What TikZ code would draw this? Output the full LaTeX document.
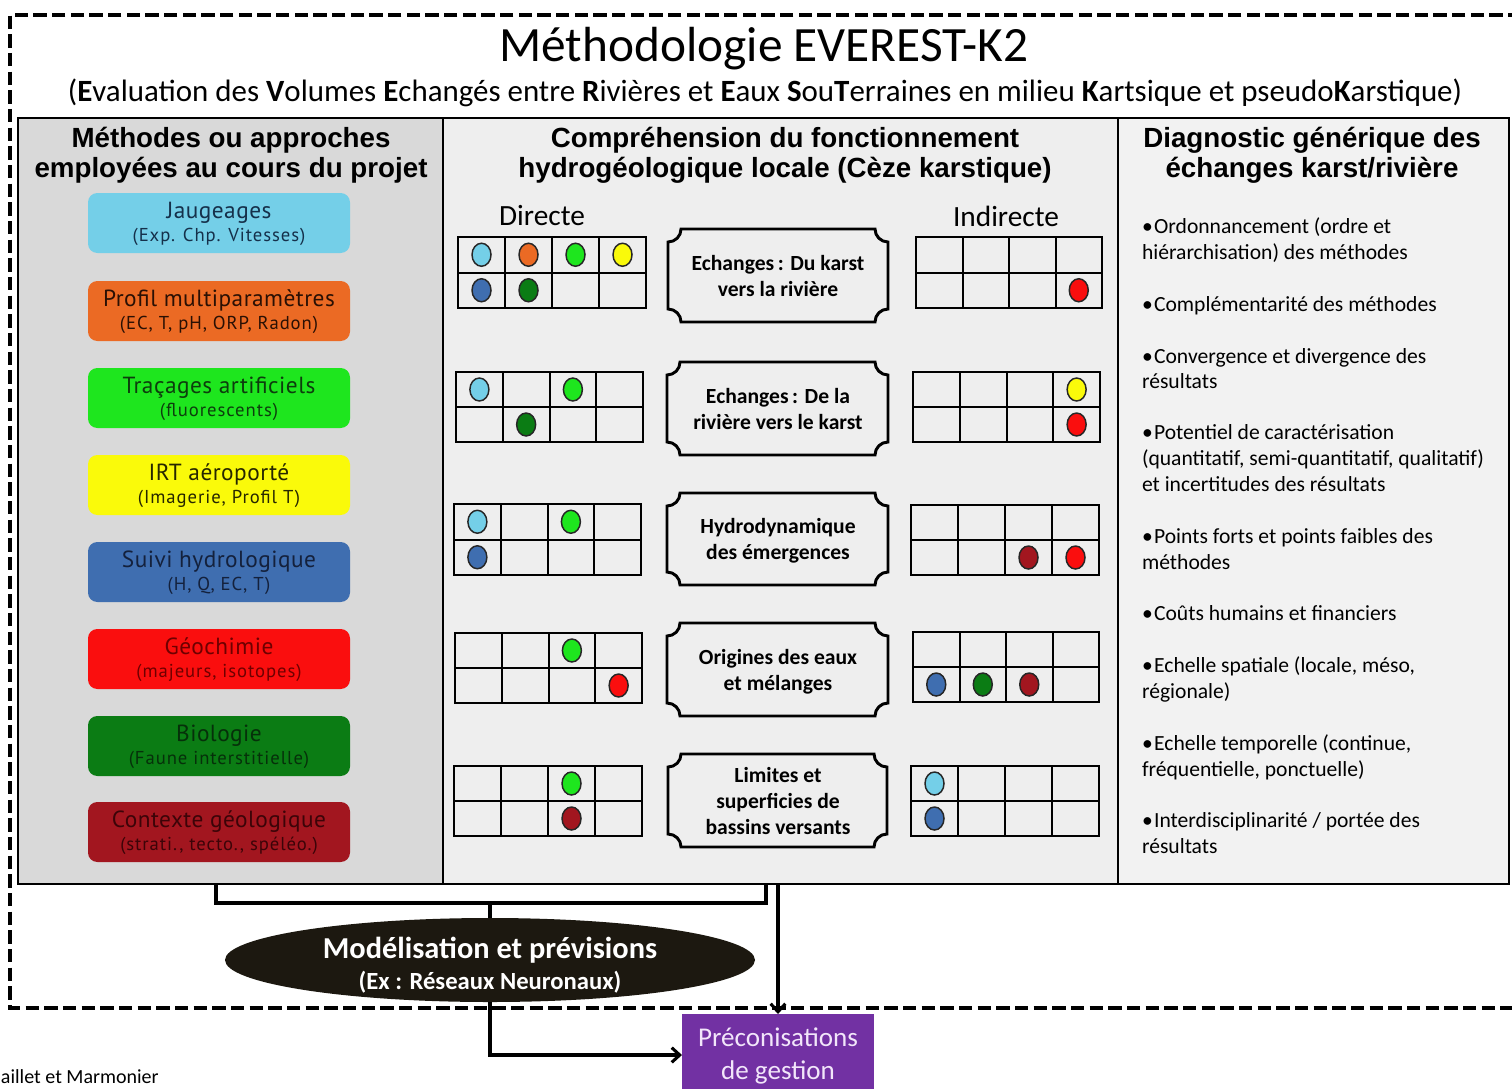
\documentclass[tikz,border=0pt]{standalone}
\usepackage{fontspec}
\setmainfont{Carlito}
\newfontfamily\hdfont{Liberation Sans}
\newfontfamily\boxfont[LetterSpace=2]{PT Sans}
\newfontfamily\boxsubfont[LetterSpace=5]{PT Sans}
\usetikzlibrary{shapes.geometric,arrows.meta,fit,calc}

\definecolor{panelL}{HTML}{D9D9D9}
\definecolor{panelM}{HTML}{EEEEEE}
\definecolor{panelR}{HTML}{F2F2F2}
\definecolor{cJau}{HTML}{74CFE8}
\definecolor{cPro}{HTML}{EB6A24}
\definecolor{cTra}{HTML}{1EE61E}
\definecolor{cIrt}{HTML}{FAFA0A}
\definecolor{cSui}{HTML}{3F6EB0}
\definecolor{cGeo}{HTML}{FA0E0E}
\definecolor{cBio}{HTML}{0B7C14}
\definecolor{cCtx}{HTML}{A2161F}
\definecolor{tJau}{HTML}{15304A}
\definecolor{tPro}{HTML}{2A1004}
\definecolor{tTra}{HTML}{0D3D0D}
\definecolor{tIrt}{HTML}{262600}
\definecolor{tSui}{HTML}{14213C}
\definecolor{tGeo}{HTML}{6E0000}
\definecolor{tBio}{HTML}{06300A}
\definecolor{tCtx}{HTML}{3C0408}
\definecolor{modelfill}{HTML}{1C1810}
\definecolor{precfill}{HTML}{7231A3}
\definecolor{prectext}{HTML}{F2E6FA}

% 4 x 2 grid of cells; remembers its corners for the spots
\newcommand\cellgrid[4]{%
  \def\gxa{#1}\def\gya{#2}\def\gxb{#3}\def\gyb{#4}%
  \draw[cellline] (#1,#2) rectangle (#3,#4);
  \draw[cellline] (#1,{(#2+#4)/2}) -- (#3,{(#2+#4)/2});
  \foreach \k in {1,2,3}{\draw[cellline] ({#1+\k*(#3-#1)/4},#2) -- ({#1+\k*(#3-#1)/4},#4);}
}
% coloured spot in column #1, row #2 of the last grid
\newcommand\gspot[3]{%
  \filldraw[spot, fill=#3] ({\gxa+(#1-0.5)*(\gxb-\gxa)/4},{\gya+(#2-0.5)*(\gyb-\gya)/2}) ellipse[x radius=9.5, y radius=11.5];
}
% plaque outline (concave corners) around a node
\newcommand\plaquepath[1]{%
  \draw[plaqueline]
    ($(#1.north west)+(0,13)$) .. controls ($(#1.north west)+(7.2,13)$) and ($(#1.north west)+(13,7.2)$) .. ($(#1.north west)+(13,0)$)
    -- ($(#1.north east)+(-13,0)$) .. controls ($(#1.north east)+(-13,7.2)$) and ($(#1.north east)+(-7.2,13)$) .. ($(#1.north east)+(0,13)$)
    -- ($(#1.south east)+(0,-13)$) .. controls ($(#1.south east)+(-7.2,-13)$) and ($(#1.south east)+(-13,-7.2)$) .. ($(#1.south east)+(-13,0)$)
    -- ($(#1.south west)+(13,0)$) .. controls ($(#1.south west)+(13,-7.2)$) and ($(#1.south west)+(7.2,-13)$) .. ($(#1.south west)+(0,-13)$)
    -- cycle;
}

\begin{document}
\begin{tikzpicture}[x=0.75pt,y=-0.75pt,
  every node/.style={outer sep=0pt},
  panel/.style={draw=black, line width=2.2pt, inner sep=0pt},
  methbox/.style={rounded corners=7pt, inner sep=0pt},
  mainlbl/.style={font=\boxfont\fontsize{17.5}{19}\selectfont, anchor=base, inner sep=0pt},
  sublbl/.style={font=\boxsubfont\fontsize{14}{16}\selectfont, anchor=base, inner sep=0pt},
  headtxt/.style={font=\hdfont\bfseries\fontsize{20.8}{23}\selectfont, anchor=base, inner sep=0pt},
  plaquetxt/.style={font=\bfseries\fontsize{16.2}{19}\selectfont, anchor=base, inner sep=0pt},
  plaqueline/.style={draw=black, line width=2.2pt},
  cellline/.style={draw=black, line width=1.5pt},
  spot/.style={draw=black!85, line width=1.1pt},
  diagtxt/.style={font=\fontsize{16.2}{19}\selectfont, anchor=base west, inner sep=0pt},
  link/.style={line width=2.3pt},
  linkarrow/.style={line width=2.3pt, -{Straight Barb[length=6pt,width=11pt]}},
]
\useasboundingbox (0,0) rectangle (1512,1088);

% dashed project frame
\draw[line width=2.6pt, dash pattern=on 10pt off 4pt] (1540,15) -- (10,15) -- (10,1008) -- (1540,1008);

% title
\node[anchor=base, inner sep=0pt, font=\fontsize{37}{41}\selectfont] (title) at (764,62) {Méthodologie EVEREST-K2};
\node[anchor=base, inner sep=0pt, font=\fontsize{23.2}{26}\selectfont] (subtitle) at (765,101)
  {(\textbf{E}valuation des \textbf{V}olumes \textbf{E}changés entre \textbf{R}ivières et \textbf{E}aux \textbf{S}ou\textbf{T}erraines en milieu \textbf{K}artsique et pseudo\textbf{K}arstique)};

% three panels
\node[panel, fill=panelL, fit={(18,118) (443,884)}] (colL) {};
\node[panel, fill=panelM, fit={(443,118) (1118,884)}] (colM) {};
\node[panel, fill=panelR, fit={(1118,118) (1509,884)}] (colR) {};

\node[headtxt] (hL1) at (231,147) {Méthodes ou approches};
\node[headtxt] (hL2) at (231,177) {employées au cours du projet};
\node[headtxt] (hM1) at (785,147) {Compréhension du fonctionnement};
\node[headtxt] (hM2) at (785,177) {hydrogéologique locale (Cèze karstique)};
\node[headtxt] (hR1) at (1312,147) {Diagnostic générique des};
\node[headtxt] (hR2) at (1312,177) {échanges karst/rivière};

% methods
\foreach \i/\t/\c/\tc/\ma/\sb in {
  1/193/cJau/tJau/Jaugeages/{(Exp. Chp. Vitesses)},
  2/281/cPro/tPro/Profil multiparamètres/{(EC, T, pH, ORP, Radon)},
  3/368/cTra/tTra/Traçages artificiels/{(fluorescents)},
  4/455/cIrt/tIrt/IRT aéroporté/{(Imagerie, Profil T)},
  5/542/cSui/tSui/Suivi hydrologique/{(H, Q, EC, T)},
  6/629/cGeo/tGeo/Géochimie/{(majeurs, isotopes)},
  7/716/cBio/tBio/Biologie/{(Faune interstitielle)},
  8/802/cCtx/tCtx/Contexte géologique/{(strati., tecto., spéléo.)}}{
  \node[methbox, fill=\c, fit={(88,\t) (350,{\t+60})}] (meth\i) {};
  \node[mainlbl, text=\tc] (meth\i a) at (219,{\t+25}) {\ma};
  \node[sublbl, text=\tc] (meth\i b) at (219,{\t+48}) {\sb};
}

% middle panel
\node[anchor=base, inner sep=0pt, font=\fontsize{22}{24}\selectfont] (direct) at (542,225) {Directe};
\node[anchor=base, inner sep=0pt, font=\fontsize{22}{24}\selectfont] (indirect) at (1006,226) {Indirecte};

\node[inner sep=0pt, fit={(668,229) (888,322)}] (pq1) {};
\node[inner sep=0pt, fit={(667,362) (888,455)}] (pq2) {};
\node[inner sep=0pt, fit={(667,493) (888,585)}] (pq3) {};
\node[inner sep=0pt, fit={(667,623) (888,716)}] (pq4) {};
\node[inner sep=0pt, fit={(668,754) (887,847)}] (pq5) {};
\foreach \n in {pq1,pq2,pq3,pq4,pq5}{\plaquepath{\n}}

\node[plaquetxt] (pq1a) at (778,270) {Echanges\,: Du karst};
\node[plaquetxt] (pq1b) at (778,296) {vers la rivière};
\node[plaquetxt] (pq2a) at (778,403) {Echanges\,: De la};
\node[plaquetxt] (pq2b) at (778,429) {rivière vers le karst};
\node[plaquetxt] (pq3a) at (778,533) {Hydrodynamique};
\node[plaquetxt] (pq3b) at (778,559) {des émergences};
\node[plaquetxt] (pq4a) at (778,664) {Origines des eaux};
\node[plaquetxt] (pq4b) at (778,690) {et mélanges};
\node[plaquetxt] (pq5a) at (778,782) {Limites et};
\node[plaquetxt] (pq5b) at (778,808) {superficies de};
\node[plaquetxt] (pq5c) at (778,834) {bassins versants};

% row 1
\cellgrid{458}{237}{646}{308}
\gspot{1}{1}{cJau}\gspot{2}{1}{cPro}\gspot{3}{1}{cTra}\gspot{4}{1}{cIrt}
\gspot{1}{2}{cSui}\gspot{2}{2}{cBio}
\cellgrid{916}{237}{1102}{308}
\gspot{4}{2}{cGeo}
% row 2
\cellgrid{456}{372}{643}{442}
\gspot{1}{1}{cJau}\gspot{3}{1}{cTra}\gspot{2}{2}{cBio}
\cellgrid{913}{372}{1100}{442}
\gspot{4}{1}{cIrt}\gspot{4}{2}{cGeo}
% row 3
\cellgrid{454}{504}{641}{575}
\gspot{1}{1}{cJau}\gspot{3}{1}{cTra}\gspot{1}{2}{cSui}
\cellgrid{911}{505}{1099}{575}
\gspot{3}{2}{cCtx}\gspot{4}{2}{cGeo}
% row 4
\cellgrid{455}{633}{642}{703}
\gspot{3}{1}{cTra}\gspot{4}{2}{cGeo}
\cellgrid{913}{632}{1099}{702}
\gspot{1}{2}{cSui}\gspot{2}{2}{cBio}\gspot{3}{2}{cCtx}
% row 5
\cellgrid{454}{766}{642}{836}
\gspot{3}{1}{cTra}\gspot{3}{2}{cCtx}
\cellgrid{911}{766}{1099}{836}
\gspot{1}{1}{cJau}\gspot{1}{2}{cSui}

% right panel
\node[diagtxt] (dg1) at (1142,233) {•\kern1pt Ordonnancement (ordre et};
\node[diagtxt] (dg2) at (1142,259) {hiérarchisation) des méthodes};
\node[diagtxt] (dg3) at (1142,311) {•\kern1pt Complémentarité des méthodes};
\node[diagtxt] (dg4) at (1142,363) {•\kern1pt Convergence et divergence des};
\node[diagtxt] (dg5) at (1142,388) {résultats};
\node[diagtxt] (dg6) at (1142,439) {•\kern1pt Potentiel de caractérisation};
\node[diagtxt] (dg7) at (1142,465) {(quantitatif, semi-quantitatif, qualitatif)};
\node[diagtxt] (dg8) at (1142,491) {et incertitudes des résultats};
\node[diagtxt] (dg9) at (1142,543) {•\kern1pt Points forts et points faibles des};
\node[diagtxt] (dg10) at (1142,569) {méthodes};
\node[diagtxt] (dg11) at (1142,620) {•\kern1pt Coûts humains et financiers};
\node[diagtxt] (dg12) at (1142,672) {•\kern1pt Echelle spatiale (locale, méso,};
\node[diagtxt] (dg13) at (1142,698) {régionale)};
\node[diagtxt] (dg14) at (1142,750) {•\kern1pt Echelle temporelle (continue,};
\node[diagtxt] (dg15) at (1142,776) {fréquentielle, ponctuelle)};
\node[diagtxt] (dg16) at (1142,827) {•\kern1pt Interdisciplinarité / portée des};
\node[diagtxt] (dg17) at (1142,853) {résultats};

% modelling and recommendations
\node[ellipse, fill=modelfill, minimum width=397.5pt, minimum height=63pt, inner sep=0pt] (model) at (490,960) {};
\node[anchor=base, inner sep=0pt, text=white, font=\bfseries\fontsize{22.8}{25}\selectfont] (modela) at (490,958) {Modélisation et prévisions};
\node[anchor=base, inner sep=0pt, text=white, font=\bfseries\fontsize{18.5}{20}\selectfont] (modelb) at (490,989) {(Ex : Réseaux Neuronaux)};

\node[inner sep=0pt, fill=precfill, fit={(682,1014) (874,1096)}] (prec) {};
\node[anchor=base, inner sep=0pt, text=prectext, font=\fontsize{20.3}{23}\selectfont] (preca) at (778,1046) {Préconisations};
\node[anchor=base, inner sep=0pt, text=prectext, font=\fontsize{20.3}{23}\selectfont] (precb) at (778,1079) {de gestion};

\coordinate (bl) at (216,884);
\coordinate (br) at (766,884);
\coordinate (bm) at (490,903);
\draw[link] (bl) |- (bm) -| (br);
\draw[link] (bm) -- (model.north);
\draw[linkarrow] (colM.south -| prec.north) -- (prec.north);
\draw[linkarrow] (model.south) |- (prec.west);

\node[anchor=base west, inner sep=0pt, font=\fontsize{15}{17}\selectfont] (credit) at (1,1083) {aillet et Marmonier};
\end{tikzpicture}
\end{document}
